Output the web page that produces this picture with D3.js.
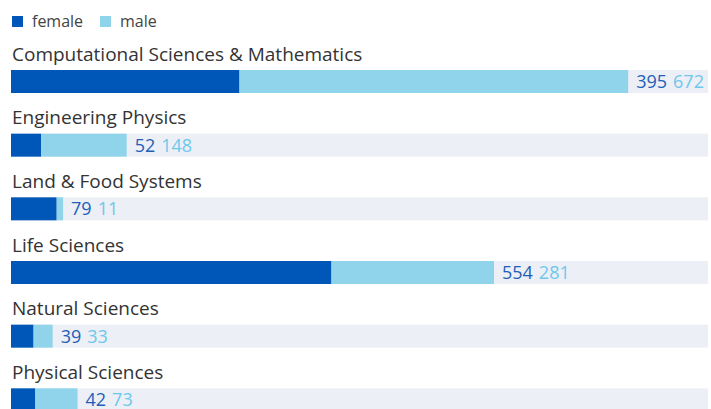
<!DOCTYPE html>
<html>
<head>
<meta charset="utf-8">
<script src="https://cdn.jsdelivr.net/npm/d3@7"></script>
<style>
  body { margin: 0; background: #fff; }
  svg { display: block; font-family: "Open Sans", sans-serif; }
</style>
</head>
<body>
<div id="chart"></div>
<script>
const categories = ["Computational Sciences & Mathematics", "Engineering Physics", "Land & Food Systems",
                    "Life Sciences", "Natural Sciences", "Physical Sciences"];
const female = [395, 52, 79, 554, 39, 42];
const male = [672, 148, 11, 281, 33, 73];
const seriesNames = ["female", "male"];

const width = 711, height = 409;
const colors = { female: "#0057b8", male: "#8fd4ea" };
const textColors = { female: "#1f5fb8", male: "#6ec8ec" };

const svg = d3.select("#chart").append("svg")
    .attr("width", width).attr("height", height);

const x = d3.scaleLinear().domain([0, 1205]).range([11, 708]);
const y = d3.scaleBand().domain(categories).range([38, 420]).paddingInner(0);

const rows = categories.map((c, i) => ({ cat: c, female: female[i], male: male[i] }));

// legend
const legend = svg.append("g");
seriesNames.forEach((s, i) => {
    const lx = 12 + i * 88;
    legend.append("rect").attr("x", lx).attr("y", 16).attr("width", 11).attr("height", 11)
        .attr("fill", colors[s]);
    legend.append("text").attr("x", lx + 20).attr("y", 26.5)
        .attr("font-size", 16).attr("fill", "#444").text(s);
});

const row = svg.selectAll("g.row").data(rows).enter().append("g")
    .attr("class", "row")
    .attr("transform", d => `translate(0,${y(d.cat)})`);

row.append("text").attr("x", 12).attr("y", 22.5)
    .attr("font-size", 19).attr("fill", "#333").text(d => d.cat);

const barTop = 32, barH = 23;

row.append("rect").attr("x", x(0)).attr("y", barTop)
    .attr("width", x.range()[1] - x(0)).attr("height", barH)
    .attr("fill", "#eceff5");

row.append("rect").attr("x", x(0)).attr("y", barTop)
    .attr("width", d => x(d.female) - x(0)).attr("height", barH)
    .attr("fill", colors.female);

row.append("rect").attr("x", d => x(d.female)).attr("y", barTop)
    .attr("width", d => x(d.female + d.male) - x(d.female)).attr("height", barH)
    .attr("fill", colors.male);

row.append("text")
    .attr("x", d => x(d.female + d.male) + 8)
    .attr("y", barTop + 18)
    .attr("font-size", 18)
    .each(function(d) {
        const t = d3.select(this);
        t.append("tspan").attr("fill", textColors.female).text(d.female);
        t.append("tspan").attr("dx", 6).attr("fill", textColors.male).text(d.male);
    });
</script>
</body>
</html>
